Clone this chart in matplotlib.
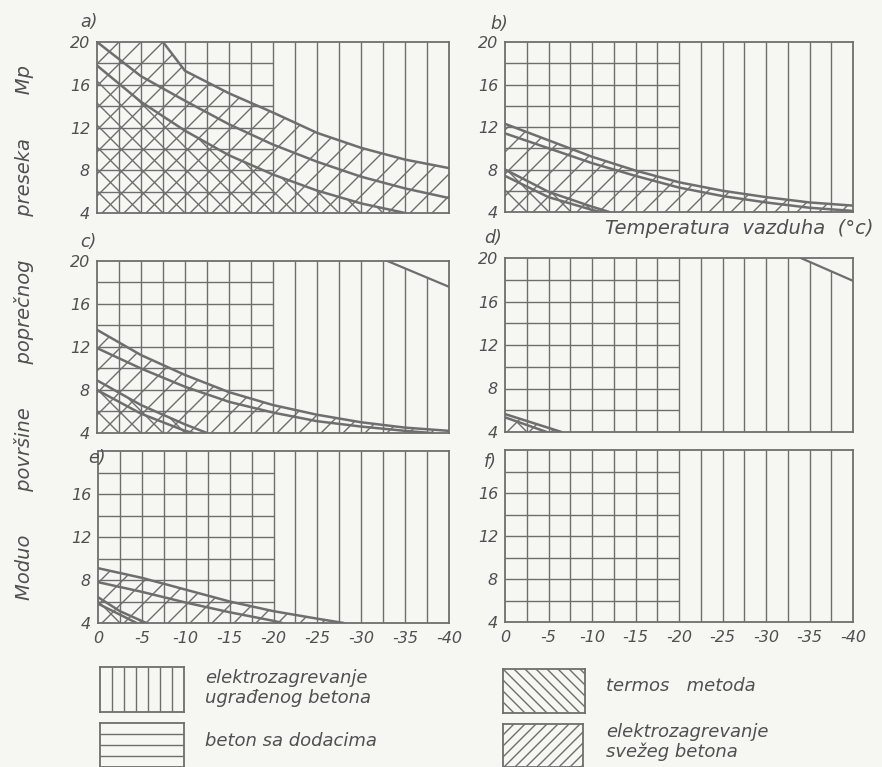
import matplotlib
matplotlib.use("Agg")
import matplotlib.pyplot as plt
from matplotlib.patches import Polygon, Rectangle
from matplotlib.collections import LineCollection
import numpy as np

# ---------------- data ----------------
temps = [0, -5, -10, -15, -20, -25, -30, -35, -40]
x_tick_labels = ["0", "-5", "-10", "-15", "-20", "-25", "-30", "-35", "-40"]
y_ticks_full = [20, 16, 12, 8, 4]
y_ticks_low = [16, 12, 8, 4]
panel_letters = ["a)", "b)", "c)", "d)", "e)", "f)"]

# panel a
a_svez_x = [-7.5, -10, -15, -20, -25, -30, -35, -40]
a_svez_y = [20, 17.3, 15.2, 13.4, 11.5, 10.1, 9.0, 8.2]
a_svez2_x = [0, -5, -10, -15, -20, -25, -30, -35, -40]
a_svez2_y = [20, 16.8, 14.5, 12.3, 10.4, 8.8, 7.4, 6.3, 5.4]
a_termos_x = [0, -5, -10, -15, -20, -25, -30, -35]
a_termos_y = [17.8, 14.4, 11.7, 9.4, 7.6, 6.1, 4.9, 4.0]
# panel b
b_svez_x = [0, -5, -10, -15, -20, -25, -30, -35, -40]
b_svez_y = [12.3, 10.75, 9.2, 7.9, 6.8, 6.0, 5.4, 4.9, 4.6]
b_svez2_x = [0, -5, -10, -15, -20, -25, -30, -35, -40]
b_svez2_y = [11.4, 10.0, 8.6, 7.4, 6.3, 5.5, 4.9, 4.4, 4.1]
b_termos_x = [0, -5, -10, -12]
b_termos_y = [8.0, 5.9, 4.5, 4.0]
b_termos2_x = [0, -5, -10, -11]
b_termos2_y = [7.4, 5.4, 4.2, 4.0]
# panel c
c_svez_x = [0, -5, -10, -15, -20, -25, -30, -35, -40]
c_svez_y = [13.6, 11.25, 9.4, 7.8, 6.6, 5.7, 5.0, 4.5, 4.2]
c_svez2_x = [0, -5, -10, -15, -20, -25, -30, -35, -38]
c_svez2_y = [11.9, 10.0, 8.3, 6.9, 5.9, 5.1, 4.6, 4.2, 4.0]
c_termos_x = [0, -5, -10, -12.5]
c_termos_y = [8.9, 6.6, 4.8, 4.0]
c_termos2_x = [0, -5, -10, -11]
c_termos2_y = [8.0, 5.8, 4.2, 4.0]
c_limit_x = [-33, -40]
c_limit_y = [20, 17.6]
# panel d
d_svez_x = [0, -6.5]
d_svez_y = [5.65, 4.0]
d_termos_x = [0, -4.8]
d_termos_y = [5.35, 4.0]
d_limit_x = [-34, -40]
d_limit_y = [20, 17.9]
# panel e
e_svez_x = [0, -5, -10, -15, -20, -25, -28]
e_svez_y = [9.1, 8.2, 7.1, 6.0, 5.1, 4.4, 4.0]
e_svez2_x = [0, -5, -10, -15, -20, -21]
e_svez2_y = [7.8, 6.9, 5.9, 5.0, 4.2, 4.0]
e_termos_x = [0, -2.5, -5.5]
e_termos_y = [6.4, 5.1, 4.0]
e_termos2_x = [0, -4.4]
e_termos2_y = [5.8, 4.0]

legend_labels = ["elektrozagrevanje\nugrađenog betona", "beton sa dodacima",
                 "termos   metoda", "elektrozagrevanje\nsvežeg betona"]

# ---------------- styling ----------------
W, H = 882, 767
BG = "#f6f6f3"
LC = "#6e6e6e"
TC = "#505050"
FONT = dict(family=["DejaVu Sans"], style="italic", color=TC)

fig = plt.figure(figsize=(W / 100, H / 100), dpi=100, facecolor=BG)

boxes = {  # pixel boxes: left, right, top, bottom
    "a": (97, 449, 42, 213),
    "b": (505, 853, 42, 212),
    "c": (97, 449, 261, 433),
    "d": (505, 853, 258, 432),
    "e": (98, 449, 451, 623),
    "f": (505, 853, 450, 622),
}


def add_ax(l, r, t, b):
    ax = fig.add_axes([l / W, 1 - b / H, (r - l) / W, (b - t) / H])
    ax.set_facecolor("none")
    ax.set_xlim(0, -40)
    ax.set_ylim(4, 20)
    for s in ax.spines.values():
        s.set_color(LC)
        s.set_linewidth(1.3)
    return ax


def region_poly(ax, cx, cy):
    verts = [(0, 4)]
    if cx[0] != 0:
        verts.append((0, 20))
    verts += list(zip(cx, cy))
    if cy[-1] > 4:
        verts.append((cx[-1], 4))
    return Polygon(verts, closed=True, transform=ax.transData)


def hatch(ax, clip, direction, spacing_px, wpx, hpx, lw=1.0):
    r = hpx / wpx
    s = spacing_px / wpx
    segs = []
    u = -r - s
    while u < 1 + s:
        if direction == "/":
            segs.append([(u, 0), (u + r, 1)])
        else:
            segs.append([(u, 1), (u + r, 0)])
        u += s
    lc = LineCollection(segs, colors=LC, linewidths=lw, transform=ax.transAxes)
    ax.add_collection(lc)
    lc.set_clip_path(clip)


def grid(ax, limit=None):
    vx = np.arange(-2.5, -40, -2.5)
    col = ax.vlines(vx, 4, 20, colors=LC, linewidth=1.0)
    if limit is not None:
        verts = [(0, 4), (0, 20)] + list(zip(limit[0], limit[1])) + [(-40, 4)]
        col.set_clip_path(Polygon(verts, closed=True, transform=ax.transData))
        ax.plot(limit[0], limit[1], color=LC, lw=1.6)
    ax.hlines(np.arange(6, 20, 2), 0, -20, colors=LC, linewidth=1.0)


panels = {
    "a": dict(svez=[(a_svez_x, a_svez_y), (a_svez2_x, a_svez2_y)],
              termos=[(a_termos_x, a_termos_y)], limit=None),
    "b": dict(svez=[(b_svez_x, b_svez_y), (b_svez2_x, b_svez2_y)],
              termos=[(b_termos_x, b_termos_y), (b_termos2_x, b_termos2_y)], limit=None),
    "c": dict(svez=[(c_svez_x, c_svez_y), (c_svez2_x, c_svez2_y)],
              termos=[(c_termos_x, c_termos_y), (c_termos2_x, c_termos2_y)],
              limit=(c_limit_x, c_limit_y)),
    "d": dict(svez=[(d_svez_x, d_svez_y)], termos=[(d_termos_x, d_termos_y)],
              limit=(d_limit_x, d_limit_y)),
    "e": dict(svez=[(e_svez_x, e_svez_y), (e_svez2_x, e_svez2_y)],
              termos=[(e_termos_x, e_termos_y), (e_termos2_x, e_termos2_y)], limit=None),
    "f": dict(svez=[], termos=[], limit=None),
}

letter_pos = {"a": (80, 22), "b": (490, 24), "c": (80, 242), "d": (484, 238),
              "e": (88, 458), "f": (484, 462)}

for i, key in enumerate("abcdef"):
    l, r, t, b = boxes[key]
    ax = add_ax(l, r, t, b)
    wpx, hpx = r - l, b - t
    p = panels[key]
    grid(ax, p["limit"])
    if p["svez"]:
        cx, cy = p["svez"][0]
        hatch(ax, region_poly(ax, cx, cy), "/", 22, wpx, hpx)
    if p["termos"]:
        cx, cy = p["termos"][0]
        hatch(ax, region_poly(ax, cx, cy), "\\", 22, wpx, hpx)
    for cx, cy in p["svez"] + p["termos"]:
        ax.plot(cx, cy, color=LC, lw=1.8, solid_capstyle="round")

    yt = y_ticks_full if key in "abcd" else y_ticks_low
    ax.set_yticks(yt)
    ax.set_yticklabels([str(v) for v in yt], fontsize=11.5, **FONT)
    ax.tick_params(axis="y", length=0, pad=5)
    if key in "ef":
        ax.set_xticks(temps)
        ax.set_xticklabels(x_tick_labels, fontsize=11.5, **FONT)
        ax.tick_params(axis="x", length=0, pad=6)
    else:
        ax.set_xticks([])
    lx, ly = letter_pos[key]
    fig.text(lx / W, 1 - ly / H, panel_letters[i], fontsize=12.5, ha="left",
             va="center", **FONT)

fig.text(605 / W, 1 - 228 / H, "Temperatura  vazduha  (°c)", fontsize=14,
         ha="left", va="center", **FONT)
fig.text(24 / W, 1 - 332 / H,
         "Moduo       površine       poprečnog       preseka       Mp",
         fontsize=14, rotation=90, ha="center", va="center", **FONT)

# ---------------- legend ----------------
leg_boxes = [(100, 184, 667, 712, "|"), (100, 184, 723, 767, "-"),
             (503, 585, 669, 713, "\\"), (503, 583, 724, 767, "/")]
leg_text_pos = [(205, 688), (205, 741), (606, 686), (606, 742)]

for (l, r, t, b, kind), (tx, ty), lab in zip(leg_boxes, leg_text_pos, legend_labels):
    lax = fig.add_axes([l / W, 1 - b / H, (r - l) / W, (b - t) / H])
    lax.set_xlim(0, 1)
    lax.set_ylim(0, 1)
    lax.set_facecolor("none")
    lax.set_xticks([])
    lax.set_yticks([])
    for s in lax.spines.values():
        s.set_color(LC)
        s.set_linewidth(1.3)
    wpx, hpx = r - l, b - t
    if kind == "|":
        lax.vlines(np.arange(1, 7) / 7, 0, 1, colors=LC, lw=1.0)
    elif kind == "-":
        lax.hlines(np.arange(1, 4) / 4, 0, 1, colors=LC, lw=1.0)
    else:
        clip = Rectangle((0, 0), 1, 1, transform=lax.transAxes)
        hatch(lax, clip, kind, 11, wpx, hpx)
    fig.text(tx / W, 1 - ty / H, lab, fontsize=13, ha="left", va="center",
             linespacing=1.1, **FONT)

fig.savefig("out.png", dpi=100, facecolor=BG)
